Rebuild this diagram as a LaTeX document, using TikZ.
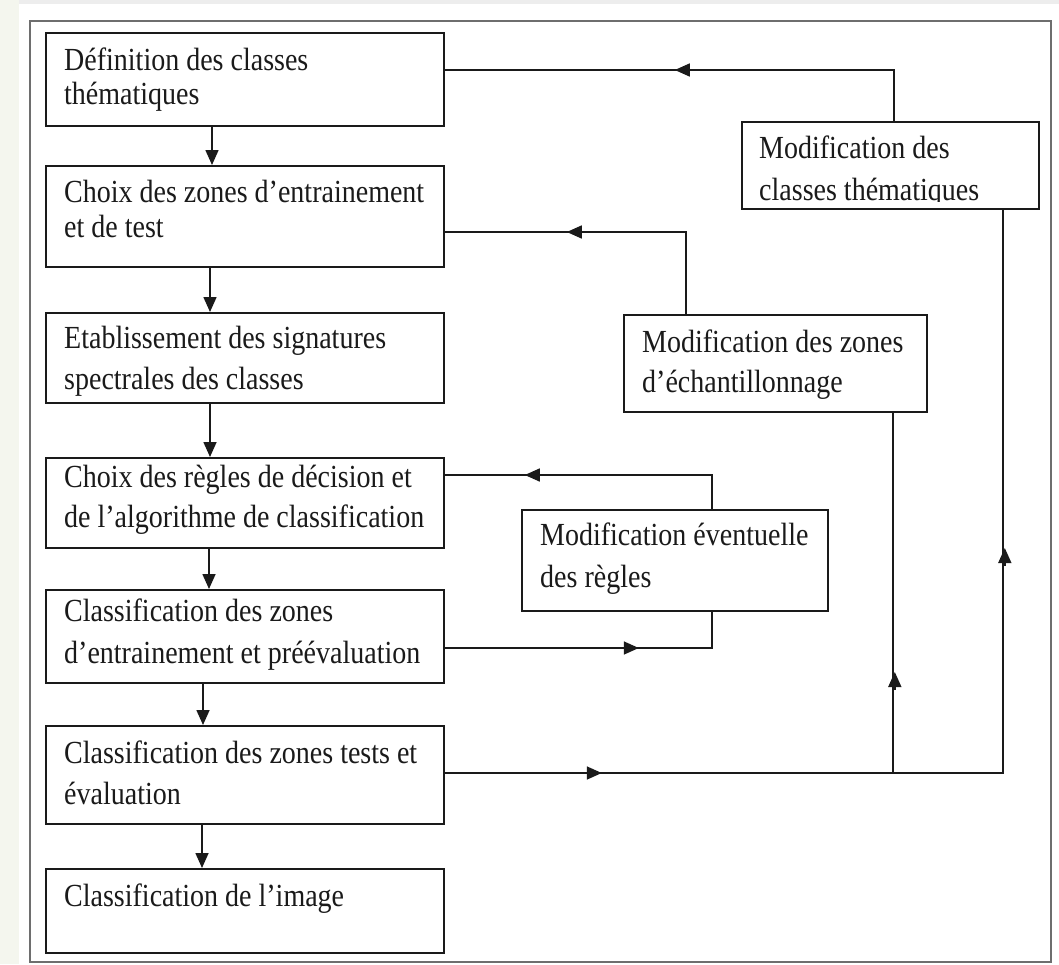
\documentclass[tikz,border=0pt]{standalone}
\usepackage{fontspec}
\usepackage{graphicx}
\setmainfont{Liberation Serif}
\usetikzlibrary{arrows.meta,calc}
\definecolor{leftstrip}{HTML}{F4F6EE}
\definecolor{topstrip}{HTML}{EDEDED}
\definecolor{framegray}{HTML}{6E6E6E}
\definecolor{ink}{HTML}{1A1A1A}
\newcommand\bxtxt[2]{\scalebox{1}[1.15]{\parbox[t]{420pt}{\fontsize{28}{#1}\selectfont #2}}}
\begin{document}
\begin{tikzpicture}[x=1pt,y=-1pt,
  box/.style={draw=ink, line width=1.8pt, anchor=north west, inner sep=0pt},
  txt/.style={anchor=base west, inner sep=0pt, text=ink, font=\fontsize{28}{34}\selectfont},
  arr/.style={-{Triangle[length=15pt,width=13pt]}, line width=1.6pt, draw=ink},
  conn/.style={line width=1.6pt, draw=ink}]
\useasboundingbox (0,0) rectangle (1059,964);
\fill[white] (0,0) rectangle (1059,964);
\fill[leftstrip] (0,0) rectangle (19,964);
\fill[topstrip] (19,0) rectangle (1059,4);
\draw[framegray, line width=1.2pt] (30,21) rectangle (1051,962);

% left column
\node[box, minimum width=398pt, minimum height=93pt] (b1) at (45,32) {};
\node[box, minimum width=398pt, minimum height=101pt] (b2) at (45,165) {};
\node[box, minimum width=398pt, minimum height=90pt] (b3) at (45,312) {};
\node[box, minimum width=398pt, minimum height=90pt] (b4) at (45,457) {};
\node[box, minimum width=398pt, minimum height=93pt] (b5) at (45,589) {};
\node[box, minimum width=398pt, minimum height=98pt] (b6) at (45,725) {};
\node[box, minimum width=398pt, minimum height=84pt] (b7) at (45,868) {};
% right boxes
\node[box, minimum width=297pt, minimum height=87pt] (mc) at (741,121) {};
\node[box, minimum width=303pt, minimum height=97pt] (mz) at (623,314) {};
\node[box, minimum width=306pt, minimum height=101pt] (mr) at (521,509) {};

% texts
\node[txt] (t1) at ($(b1.north west)+(19,38)$) {\bxtxt{30}{Définition des classes\\thématiques}};
\node[txt] (t2) at ($(b2.north west)+(19,37)$) {\bxtxt{31}{Choix des zones d’entrainement\\et de test}};
\node[txt] (t3) at ($(b3.north west)+(19,36)$) {\bxtxt{36}{Etablissement des signatures\\spectrales des classes}};
\node[txt] (t4) at ($(b4.north west)+(19,30)$) {\bxtxt{35}{Choix des règles de décision et\\de l’algorithme de classification}};
\node[txt] (t5) at ($(b5.north west)+(19,32)$) {\bxtxt{37}{Classification des zones\\d’entrainement et préévaluation}};
\node[txt] (t6) at ($(b6.north west)+(19,38)$) {\bxtxt{36}{Classification des zones tests et\\évaluation}};
\node[txt] (t7) at ($(b7.north west)+(19,38)$) {\bxtxt{35}{Classification de l’image}};
\begin{scope}
\clip ($(mc.north west)+(0,0)$) rectangle ($(mc.south east)+(0,-8)$);
\node[txt] (t8) at ($(mc.north west)+(18,37)$) {\bxtxt{37}{Modification des\\classes thématiques}};
\end{scope}
\node[txt] (t9) at ($(mz.north west)+(19,38)$) {\bxtxt{35}{Modification des zones\\d’échantillonnage}};
\node[txt] (t10) at ($(mr.north west)+(19,36)$) {\bxtxt{37}{Modification éventuelle\\des règles}};

% main chain
\draw[arr] ($(b1.south west)+(167,0)$) -- ($(b2.north west)+(167,0)$);
\draw[arr] ($(b2.south west)+(165,0)$) -- ($(b3.north west)+(165,0)$);
\draw[arr] ($(b3.south west)+(165,0)$) -- ($(b4.north west)+(165,0)$);
\draw[arr] ($(b4.south west)+(164,0)$) -- ($(b5.north west)+(164,0)$);
\draw[arr] ($(b5.south west)+(158,0)$) -- ($(b6.north west)+(158,0)$);
\draw[arr] ($(b6.south west)+(157,0)$) -- ($(b7.north west)+(157,0)$);

% feedback: classes
\coordinate (c1) at ($(b1.north east)+(0,38)$);
\draw[conn] ($(mc.north west)+(153,0)$) |- (c1);
\draw[arr] ($(c1)+(248,0)$) -- ($(c1)+(230,0)$);
% feedback: zones
\coordinate (c2) at ($(b2.north east)+(0,67)$);
\draw[conn] ($(mz.north west)+(63,0)$) |- (c2);
\draw[arr] ($(c2)+(140,0)$) -- ($(c2)+(122,0)$);
% feedback: regles
\coordinate (c4) at ($(b4.north east)+(0,18)$);
\draw[conn] ($(mr.north west)+(191,0)$) |- (c4);
\draw[arr] ($(c4)+(98,0)$) -- ($(c4)+(80,0)$);
\coordinate (c5) at ($(b5.north east)+(0,59)$);
\draw[conn] (c5) -| ($(mr.south west)+(191,0)$);
\draw[arr] ($(c5)+(176,0)$) -- ($(c5)+(194,0)$);
% evaluation outputs
\coordinate (j) at ($(b6.north east)+(0,48)$);
\coordinate (mzb) at ($(mz.south west)+(270,0)$);
\draw[conn] (j) -| ($(mc.south west)+(262,0)$);
\draw[conn] (mzb) -- (mzb |- j);
\draw[arr] ($(j)+(139,0)$) -- ($(j)+(157,0)$);
\draw[arr] ($(j)+(450,-83)$) -- ($(j)+(450,-101)$);
\draw[arr] ($(j)+(560,-207)$) -- ($(j)+(560,-225)$);
\end{tikzpicture}
\end{document}
